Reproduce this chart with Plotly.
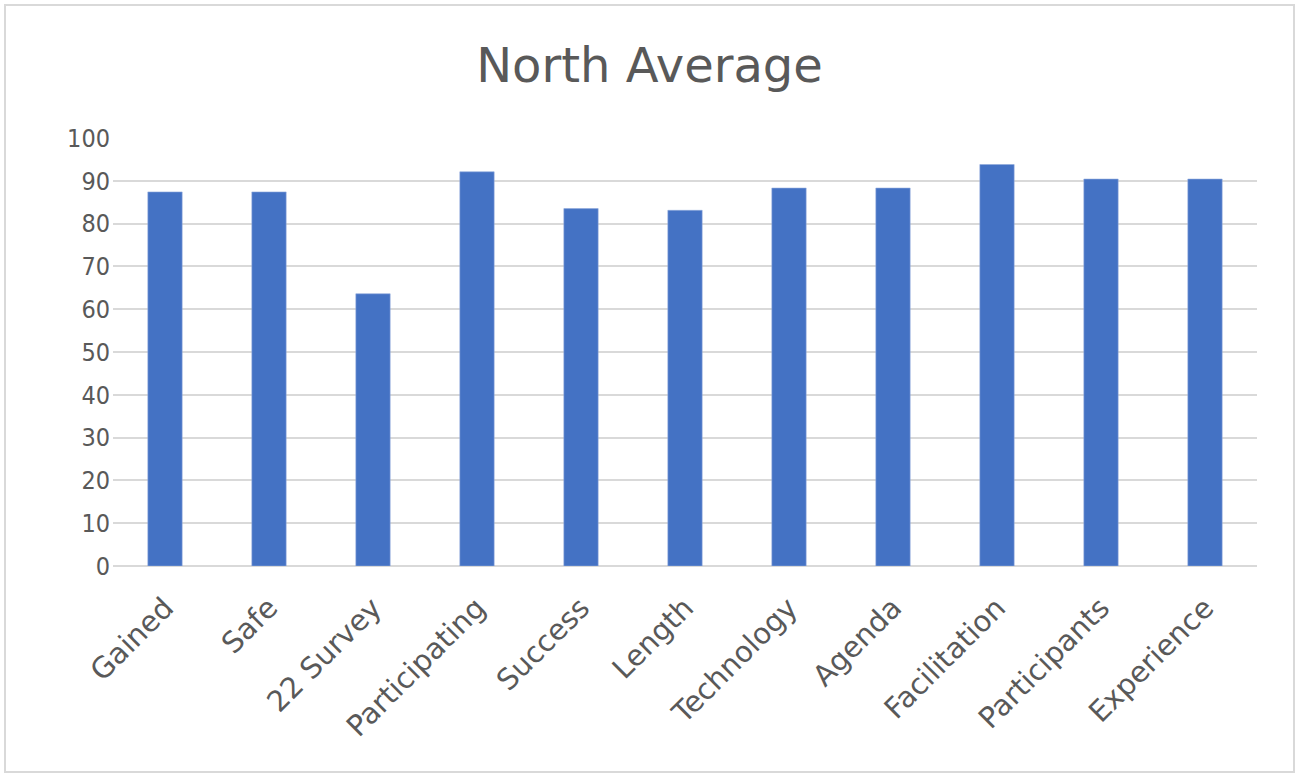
import plotly.graph_objects as go

categories = ["Gained", "Safe", "22 Survey", "Participating", "Success", "Length",
              "Technology", "Agenda", "Facilitation", "Participants", "Experience"]
averages = [87.4, 87.4, 63.6, 92.1, 83.5, 83.1, 88.3, 88.3, 93.8, 90.4, 90.4]
y_ticks = [0, 10, 20, 30, 40, 50, 60, 70, 80, 90, 100]

W, H = 1299, 777
font_family = "'DejaVu Sans', sans-serif"
text_color = "#595959"

fig = go.Figure(
    go.Bar(
        x=categories,
        y=averages,
        marker=dict(color="#4472C4", line=dict(color="#8FAADC", width=0.6)),
        width=0.33,
        hoverinfo="x+y",
    )
)

fig.update_layout(
    width=W,
    height=H,
    paper_bgcolor="white",
    plot_bgcolor="white",
    margin=dict(l=113, r=42, t=138, b=211),
    showlegend=False,
    title=dict(
        text="North Average",
        x=0.5,
        xanchor="center",
        y=1 - 65 / H,
        yanchor="middle",
        font=dict(family=font_family, size=48, color=text_color),
    ),
    font=dict(family=font_family, color=text_color),
    shapes=[
        dict(
            type="rect",
            xref="paper",
            yref="paper",
            x0=-108 / (W - 155),
            x1=1 + 37 / (W - 155),
            y0=-(206) / (H - 349),
            y1=1 + 133 / (H - 349),
            line=dict(color="#D9D9D9", width=2),
            layer="below",
        )
    ],
)

fig.update_xaxes(
    tickangle=-45,
    tickfont=dict(size=29, color=text_color),
    showgrid=False,
    showline=False,
    ticks="",
    ticklabelstandoff=18,
)

fig.update_yaxes(
    range=[0, 100],
    tickvals=y_ticks,
    tickfont=dict(family="'DejaVu Sans Condensed', 'DejaVu Sans', sans-serif", size=25, color=text_color),
    showgrid=True,
    gridcolor="#D9D9D9",
    gridwidth=2,
    zeroline=True,
    zerolinecolor="#D9D9D9",
    zerolinewidth=2,
    showline=False,
    ticks="",
    ticklabelstandoff=2,
)

fig.write_html("out.html")
